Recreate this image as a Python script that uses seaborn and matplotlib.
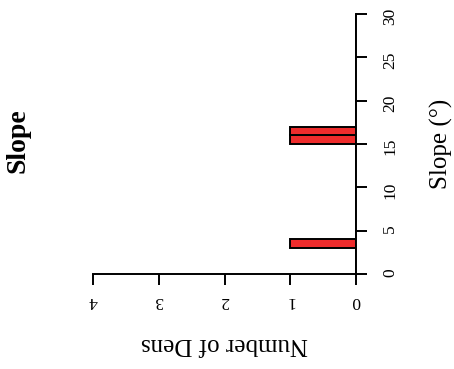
import numpy as np
import matplotlib
matplotlib.use("Agg")
import matplotlib.pyplot as plt
import seaborn as sns

# Slope (degrees) measured at each den
den_slopes = [3.5, 15.5, 16.5]
slope_bins = np.arange(0, 31, 1)
slope_ticks = [0, 5, 10, 15, 20, 25, 30]
count_ticks = [0, 1, 2, 3, 4]

title = "Slope"
slope_label = "Slope (°)"
count_label = "Number of Dens"

sns.set_style("ticks")
plt.rcParams["font.family"] = ["Liberation Serif", "DejaVu Serif"]
plt.rcParams["text.color"] = "black"
plt.rcParams["axes.labelcolor"] = "black"

fig = plt.figure(figsize=(4.54, 3.69), dpi=100)
W, H = 454, 369
ax = fig.add_axes([93 / W, (H - 274) / H, (356 - 93) / W, (274 - 14) / H])

sns.histplot(y=den_slopes, bins=slope_bins, color="#ee2c2c", edgecolor="black",
             linewidth=1.4, alpha=1, ax=ax)

ax.set_xlim(4, 0)
ax.set_ylim(0, 30)
ax.set_xticks(count_ticks)
ax.set_yticks(slope_ticks)

for side in ["top", "left"]:
    ax.spines[side].set_visible(False)
for side in ["right", "bottom"]:
    ax.spines[side].set_linewidth(1.4)
    ax.spines[side].set_color("black")

ax.yaxis.tick_right()
ax.yaxis.set_label_position("right")
ax.tick_params(axis="both", direction="out", length=8, width=1.4, color="black",
               labelsize=12.5, labelcolor="black")
ax.tick_params(axis="y", labelrotation=90, pad=11)
ax.tick_params(axis="x", labelrotation=180, pad=6)

ax.set_ylabel(slope_label, fontsize=18, rotation=90, labelpad=23)
ax.set_xlabel(count_label, fontsize=18, rotation=180, labelpad=17)

fig.text(18 / W, (H - 141) / H, title, rotation=90, fontsize=20, fontweight="bold",
         ha="center", va="center", color="black")

fig.savefig("out.png", dpi=100, facecolor="white")
